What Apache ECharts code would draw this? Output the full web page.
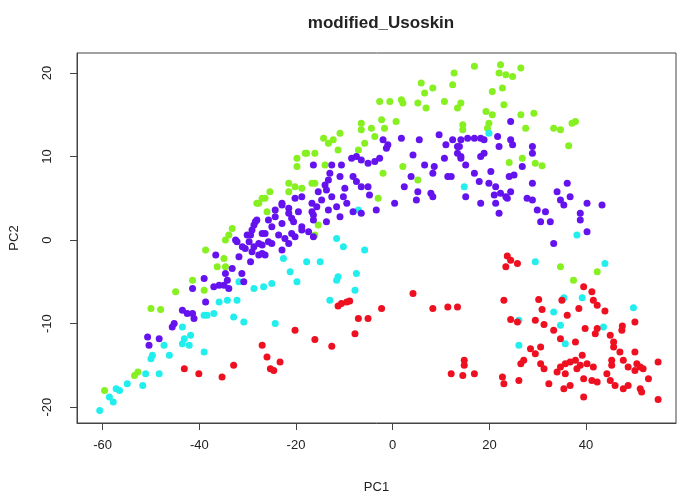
<!DOCTYPE html>
<html><head><meta charset="utf-8">
<script src="https://cdn.jsdelivr.net/npm/echarts@6/dist/echarts.min.js"></script>
<style>html,body{margin:0;padding:0;background:#fff}#c{width:682px;height:500px}</style>
</head><body><div id="c"></div>
<script>
const title = "modified_Usoskin";
const xName = "PC1", yName = "PC2";
const xTicks = [-60, -40, -20, 0, 20, 40];
const yTicks = [-20, -10, 0, 10, 20];

const green = [[12.7,20.0],[12.4,18.6],[5.9,18.8],[8.3,18.2],[6.6,17.6],[5.2,16.4],[6.9,15.8],[10.7,16.6],[1.8,16.8],[2.1,16.4],[-2.7,16.6],[-0.6,16.6],[0.7,14.2],[-2.3,14.4],[-1.7,13.4],[-6.5,14.0],[-6.5,13.2],[-4.4,13.4],[-3.7,12.4],[-10.9,12.8],[-12.3,12.0],[-14.3,12.2],[-13.3,11.6],[-11.3,10.8],[-7.1,10.8],[-5.8,11.6],[-17.8,10.4],[-16.1,10.4],[-19.8,9.8],[-19.8,8.8],[-14.0,9.0],[-2.0,8.0],[2.1,8.8],[-21.5,6.8],[-20.2,6.4],[-18.8,6.2],[-16.1,6.8],[-21.5,5.8],[-3.0,5.0],[-26.4,5.0],[5.2,7.2],[-15.4,1.8],
[16.9,20.8],[22.3,21.0],[22.0,20.0],[23.4,19.8],[24.8,19.6],[26.5,20.6],[22.7,18.2],[20.6,17.8],[14.1,16.4],[13.4,15.8],[23.0,16.2],[19.3,15.4],[20.6,15.0],[26.5,15.0],[29.2,15.2],[19.9,14.0],[19.6,13.4],[14.5,13.8],[14.5,13.2],[27.5,13.4],[33.3,13.4],[34.7,13.2],[37.8,14.2],[37.1,14.0],[36.4,11.3],[26.8,9.8],[24.1,9.3],[29.5,9.2],[30.9,8.9],
[-28.1,4.4],[-26.0,3.4],[-33.9,0.6],[-33.2,1.4],[-38.7,-1.2],[-34.9,-2.2],[-34.6,-3.2],[-36.3,-3.2],[-41.4,-4.8],[-39.0,-6.0],[-44.9,-6.2],[-50.0,-8.2],[-48.0,-8.3],[-52.7,-15.8],[-53.4,-16.2],[-59.6,-18.0],
[42.3,-3.8],[34.7,-3.2],[37.4,-4.8],
[-18.1,10.4],[-25.4,5.8],[-27.0,5.0],[-27.7,4.4],[-34.6,0.0],[-16.1,0.6],[-16.7,6.8]];

const cyan = [[-28.7,-5.8],[-26.7,-5.6],[-31.8,-5.0],[-35.9,-7.4],[-34.2,-7.2],[-32.2,-7.2],[-38.4,-9.0],[-37.0,-8.8],[-39.0,-9.0],[-32.9,-9.2],[-30.8,-9.8],[-43.5,-10.4],[-41.8,-11.4],[-43.1,-11.8],[-42.1,-12.6],[-43.5,-12.4],[-47.3,-12.6],[-46.2,-13.8],[-49.7,-13.8],[-50.0,-14.2],[-39.0,-13.4],[-51.1,-16.0],[-48.3,-16.0],[-54.9,-17.2],[-51.7,-17.4],[-57.2,-17.8],[-56.5,-18.0],[-58.6,-18.8],[-57.8,-19.4],[-60.6,-20.4],
[-11.6,0.2],[-10.2,-0.8],[-5.8,-1.2],[-22.6,-2.2],[-17.8,-2.6],[-15.0,-2.6],[-21.2,-3.8],[-19.8,-5.0],[-25.0,-5.2],[-11.3,-4.4],[-11.6,-4.8],[-7.5,-4.0],[-7.8,-6.0],[-13.0,-7.2],[-24.3,-10.0],
[-7.1,3.6],[14.8,6.4],[38.1,0.6],[19.9,12.8],
[29.5,-2.6],[43.9,-2.8],[49.8,-8.1],[39.2,-6.9],[35.4,-6.9],[33.3,-8.6],[34.7,-10.2],[43.6,-10.4],[26.1,-9.6],[26.1,-12.6],[35.7,-12.4]];

const purple = [[-2.0,12.0],[-1.0,11.4],[-1.3,11.0],[1.8,12.2],[5.5,12.0],[9.6,12.6],[12.4,12.0],[13.4,11.2],[11.0,11.4],[4.2,10.2],[10.7,9.8],[14.1,10.0],[6.6,9.0],[8.6,8.8],[8.3,8.0],[11.4,7.6],[3.8,7.6],[2.4,6.4],[5.2,5.8],[7.9,5.6],[8.3,5.2],[4.9,4.8],[0.4,4.4],[-3.4,3.6],
[-8.5,9.8],[-7.5,10.0],[-6.5,9.6],[-5.1,9.2],[-3.7,9.4],[-2.7,9.8],[-16.4,9.0],[-12.6,9.0],[-10.6,9.0],[-13.0,8.0],[-10.9,7.6],[-8.2,7.6],[-7.5,7.0],[-6.5,6.4],[-5.1,6.4],[-4.8,5.4],[-9.9,6.2],[-13.7,6.0],[-15.4,5.8],[-14.7,4.8],[-12.6,5.2],[-10.2,5.2],[-9.5,4.4],[-16.7,4.4],[-18.8,5.2],[-20.2,5.0],[-22.9,4.4],[-24.3,3.6],[-21.5,3.2],[-19.5,3.4],[-16.7,3.4],[-15.7,4.0],[-13.3,3.6],[-11.6,4.0],[-10.9,2.8],[-8.2,3.4],[-6.5,3.2],[-25.7,2.4],[-22.9,2.0],[-20.5,2.2],[-18.8,1.6],[-16.4,2.4],[-13.7,2.2],[-26.4,0.8],[-23.6,0.6],[-20.9,0.8],[-17.4,1.0],
[24.4,14.2],[14.1,12.0],[15.5,12.2],[16.9,12.2],[18.2,12.2],[18.9,12.0],[13.8,11.2],[13.4,10.4],[14.1,9.8],[15.1,9.0],[18.9,10.4],[18.2,10.0],[21.7,12.4],[22.0,11.2],[24.4,12.0],[24.8,11.4],[28.9,11.2],[28.9,10.4],[26.8,8.8],[16.9,8.0],[20.3,8.2],[17.9,7.0],[19.9,6.8],[21.3,6.4],[22.3,5.6],[21.0,5.4],[21.3,4.4],[22.0,3.2],[23.4,5.2],[24.1,7.6],[25.1,7.8],[24.4,5.8],[23.7,5.0],[18.2,4.4],[15.1,5.2],[27.8,5.0],[28.9,4.8],[28.9,6.8],[29.9,3.6],[31.6,3.4],[30.6,2.2],[32.6,2.2],[34.0,5.8],[34.7,4.8],[35.4,4.2],[36.1,6.8],[36.7,5.2],[38.8,3.2],[38.8,2.4],[40.2,4.4],[43.3,4.2],[40.2,1.0],[12.1,7.6],[33.3,-0.4],
[-28.4,2.2],[-29.1,1.2],[-30.1,0.6],
[-28.7,1.8],[-27.0,0.8],[-29.4,0.6],[-32.2,-0.2],[-30.5,-1.0],[-28.7,-0.8],[-27.0,-0.6],[-25.7,-0.2],[-27.7,-1.8],[-26.4,-1.8],[-29.4,-2.6],[-31.8,-2.0],[-36.6,-1.8],[-33.2,-3.4],[-34.6,-4.0],[-34.2,-4.8],[-34.9,-5.4],[-33.9,-5.8],[-35.9,-5.4],[-37.0,-5.6],[-31.2,-4.0],[-30.8,-5.0],[-39.0,-4.6],[-41.4,-5.8],[-38.7,-7.4],[-43.5,-8.4],[-42.5,-8.8],[-41.4,-8.8],[-41.1,-9.4],[-45.2,-10.0],[-45.6,-10.4],[-50.7,-11.6],[-48.3,-11.8],[-50.4,-12.6],
[-13.3,7.2],[-14.0,6.6],[-22.9,4.2],[-21.5,3.8],[-24.3,2.8],[-20.9,2.6],[-16.4,3.0],[-28.1,2.4],[-25.0,1.6],[-22.3,0.2],[-20.2,0.4],[-18.8,1.2],[-16.4,0.4],[-32.5,0.0],[-31.1,-0.8],[-29.7,-0.2],[-27.7,-0.4],[-25.0,-0.4],[-29.1,-1.4],[-27.0,-1.6],[-22.9,-1.2],[-21.5,-0.4]];

const red = [[-43.1,-15.4],[-40.1,-16.0],[-35.3,-16.4],[-32.9,-15.0],[-27.0,-12.6],[-26.0,-14.0],[-25.3,-15.4],
[-10.6,-7.6],[-9.5,-7.4],[-8.9,-7.3],[-11.3,-7.9],[-2.3,-8.2],[4.2,-6.4],[8.3,-8.2],[11.4,-8.0],[13.4,-8.0],[-7.1,-9.4],[-5.1,-9.4],[-7.8,-11.2],[-20.2,-10.8],[-16.1,-11.9],[-12.6,-12.7],[-23.3,-14.6],[-24.6,-15.6],[12.1,-16.0],
[23.7,-1.9],[24.4,-2.4],[25.8,-2.8],[23.4,-3.2],[39.5,-5.6],[41.2,-6.2],[41.5,-7.2],[42.3,-7.8],[43.9,-8.5],[23.0,-7.2],[30.2,-7.1],[35.0,-7.2],[38.5,-8.2],[30.9,-8.3],[36.1,-9.0],[24.4,-9.5],[25.8,-9.8],[29.5,-9.6],[31.3,-10.1],[33.3,-10.8],[39.8,-10.6],[42.3,-10.6],[41.9,-11.2],[47.5,-10.3],[47.4,-10.8],[50.1,-9.8],[45.0,-11.4],[45.7,-12.2],[45.7,-12.8],[47.0,-13.4],[34.7,-11.8],[37.8,-12.2],[39.2,-13.8],[28.5,-13.0],[29.5,-13.6],[30.6,-12.8],[27.1,-14.4],[26.5,-14.8],[30.6,-14.8],[31.3,-15.4],[34.7,-15.2],[35.7,-14.8],[36.7,-14.6],[37.8,-14.4],[38.8,-15.0],[40.2,-14.8],[41.5,-15.2],[34.0,-15.8],[35.7,-16.0],[38.1,-15.4],[39.5,-16.6],[41.2,-16.8],[42.3,-17.0],[44.3,-16.0],[45.3,-14.4],[45.3,-15.0],[47.7,-14.4],[48.7,-15.2],[50.1,-13.4],[50.5,-14.8],[51.2,-15.2],[51.8,-15.4],[50.1,-15.6],[52.9,-16.6],[54.9,-14.6],[54.9,-19.1],[45.0,-16.8],[46.0,-17.4],[47.7,-17.8],[48.7,-17.4],[51.2,-17.8],[51.5,-18.2],[39.5,-18.8],[36.7,-17.4],[35.4,-17.8],[32.3,-17.2],[22.7,-16.4],[23.0,-17.2],[26.1,-16.8],[14.8,-14.4],[14.8,-15.0],[14.5,-16.2],[16.9,-16.0]];

const chart = echarts.init(document.getElementById('c'), null, {renderer: 'canvas'});
const font = 'Liberation Sans, Arial, sans-serif';
function mk(name, data, color) {
  return {name, type: 'scatter', data, symbol: 'circle', symbolSize: 7,
    itemStyle: {color, opacity: 1}, emphasis: {disabled: true}, animation: false};
}
const axisCol = '#444';
chart.setOption({
  animation: false,
  backgroundColor: '#fff',
  title: {text: title, left: 376, top: 10, textAlign: 'center',
    textStyle: {fontFamily: font, fontSize: 17, fontWeight: 'bold', color: '#222'}},
  grid: {left: 74, right: 6, top: 53, bottom: 77, show: true, borderColor: axisCol, borderWidth: 1, backgroundColor: 'transparent'},
  xAxis: {type: 'value', min: -65.3, max: 58.6, name: xName, nameLocation: 'middle', nameGap: 58,
    nameTextStyle: {fontFamily: font, fontSize: 13, color: '#222'},
    axisLine: {show: true, onZero: false, lineStyle: {color: axisCol}}, splitLine: {show: false},
    axisTick: {show: true, inside: false, length: 7, customValues: xTicks, lineStyle: {color: axisCol}},
    axisLabel: {customValues: xTicks, margin: 16, fontFamily: font, fontSize: 13, color: '#222'}},
  yAxis: {type: 'value', min: -21.9, max: 22.4, name: yName, nameLocation: 'middle', nameGap: 56,
    nameTextStyle: {fontFamily: font, fontSize: 13, color: '#222'},
    axisLine: {show: true, onZero: false, lineStyle: {color: axisCol}}, splitLine: {show: false},
    axisTick: {show: true, inside: false, length: 7, customValues: yTicks, lineStyle: {color: axisCol}},
    axisLabel: {customValues: yTicks, rotate: 90, margin: 23, fontFamily: font, fontSize: 13, color: '#222'}},
  series: [
    mk('g', green, '#86F020'),
    mk('c', cyan, '#22EEEE'),
    mk('p', purple, '#6412EE'),
    mk('r', red, '#EE1020')
  ]
});
</script></body></html>
